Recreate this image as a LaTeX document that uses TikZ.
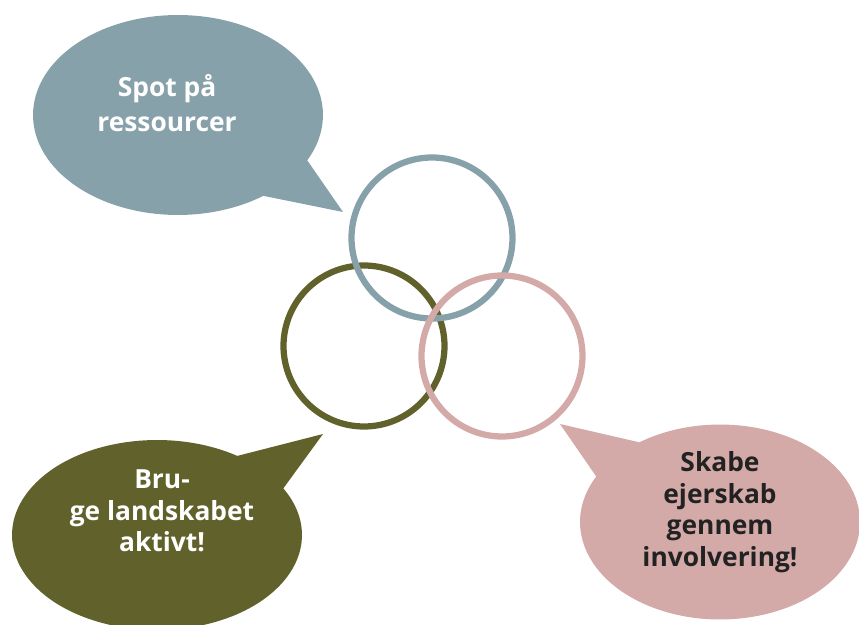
\documentclass[tikz,border=0pt]{standalone}
\usepackage{fontspec}
\setmainfont{Open Sans}
\usetikzlibrary{shapes,shapes.callouts,calc}

\definecolor{graablaa}{HTML}{87A1AA}
\definecolor{oliven}{HTML}{61622B}
\definecolor{rosa}{HTML}{D4AAA8}
\definecolor{moerk}{HTML}{222222}

\begin{document}
\begin{tikzpicture}[x=0.02cm,y=-0.02cm]

    \useasboundingbox (0,0) rectangle (859,625);

    \tikzset{
        ring/.style={circle, draw, line width=0.125cm, minimum size=3.22cm, inner sep=0pt},
        boble/.style={ellipse callout, callout pointer arc=27, inner sep=0pt},
        tekst/.style={align=center, font=\fontsize{15}{18}\selectfont\bfseries},
    }

    % ringe
    \node [ring, draw=oliven] (O) at (364,346) {};
    \node [ring, draw=graablaa] (B) at (432,238) {};
    \node [ring, draw=rosa] (R) at (502,356) {};

    % spidser
    \coordinate (TB) at (343,212);
    \coordinate (TO) at (323,434);
    \coordinate (TR) at (560,424);

    % bobler
    \node
        [ boble,
            fill=graablaa,
            minimum width=5.8cm,
            minimum height=4cm,
            callout absolute pointer={(TB)},
        ] (X) at (178,115) {};

    \node
        [ boble,
            fill=oliven,
            minimum width=5.8cm,
            minimum height=3.8cm,
            callout absolute pointer={(TO)},
        ] (Y) at (157,535) {};

    \node
        [ boble,
            fill=rosa,
            minimum width=5.6cm,
            minimum height=3.9cm,
            callout absolute pointer={(TR)},
        ] (Z) at (720,522) {};

    % tekster
    \node [tekst, text=white, font=\fontsize{15}{20}\selectfont\bfseries] (XT) at (167,103) {Spot på\\ressourcer};
    \node [tekst, text=white] (YT) at (162,511) {Bru-\\ge landskabet\\aktivt!};
    \node [tekst, text=moerk] (ZT) at (720,512) {Skabe\\ejerskab\\gennem\\involvering!};

\end{tikzpicture}
\end{document}
